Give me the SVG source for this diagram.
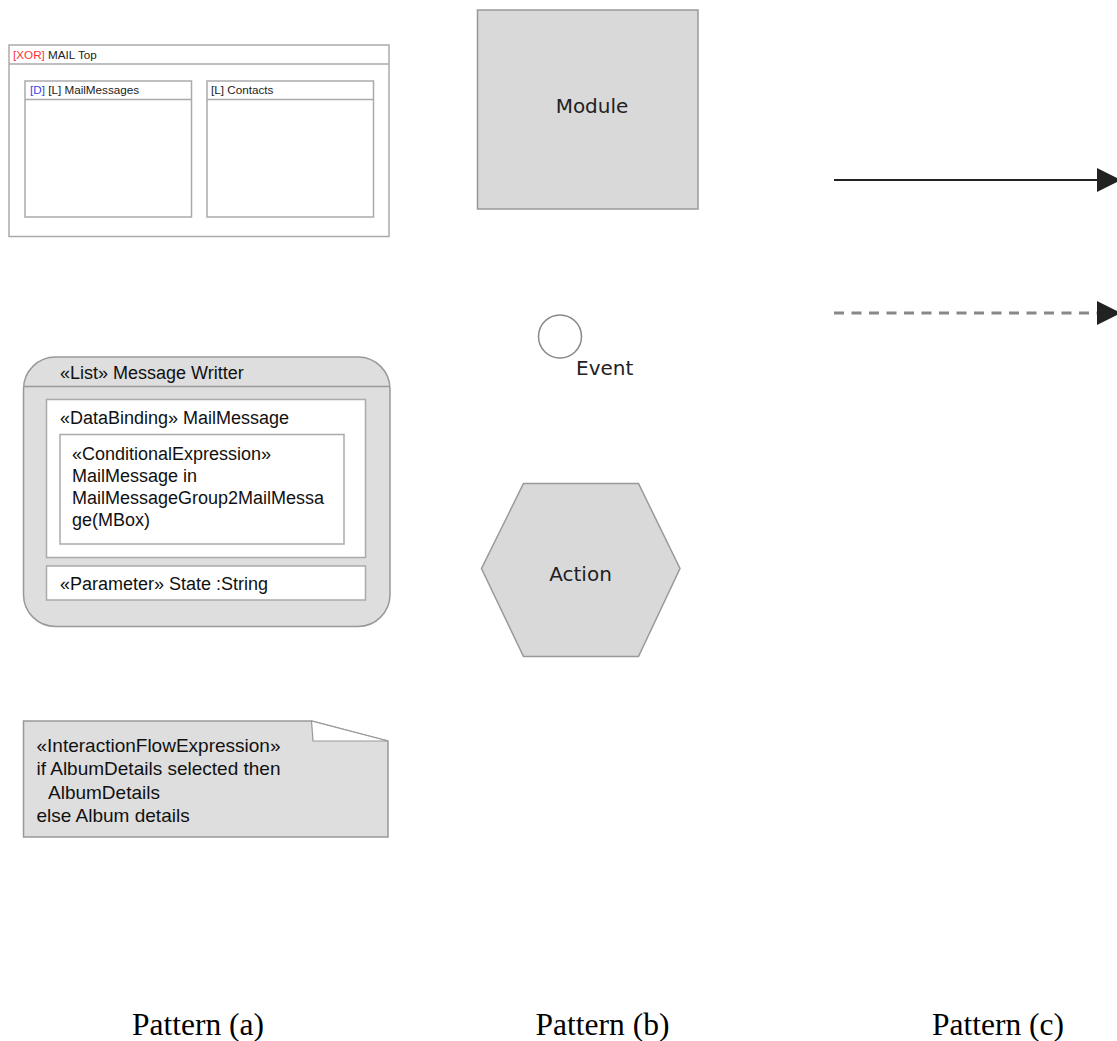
<svg xmlns="http://www.w3.org/2000/svg" width="1117" height="1041" viewBox="0 0 1117 1041">
<style>
.box{fill:#fff;stroke:#aaa;stroke-width:1.5}
.gray{fill:#d9d9d9;stroke:#999;stroke-width:1.5}
.sm{font-family:"Liberation Sans",Arial,sans-serif;font-size:11.7px;fill:#222}
.md{font-family:"Liberation Sans",Arial,sans-serif;font-size:18px;fill:#111}
.nt{font-family:"Liberation Sans",Arial,sans-serif;font-size:19px;fill:#111}
.lg{font-family:"DejaVu Sans",Verdana,sans-serif;font-size:20px;fill:#222}
.cap{font-family:"Liberation Serif","Times New Roman",serif;font-size:31.5px;fill:#000;text-anchor:middle}
</style>
<rect width="1117" height="1041" fill="#fff"/>
<g id="mail-top">
<rect class="box" x="9" y="45" width="380" height="191.5"/>
<line x1="9" y1="64" x2="389" y2="64" stroke="#aaa" stroke-width="1.5"/>
<text class="sm" x="13" y="59"><tspan fill="#ff3333">[XOR]</tspan> MAIL Top</text>
</g>
<g id="mail-messages">
<rect class="box" x="25" y="81" width="166.5" height="136"/>
<line x1="25" y1="99.5" x2="191.5" y2="99.5" stroke="#aaa" stroke-width="1.5"/>
<text class="sm" x="30" y="93.5"><tspan fill="#3344ee">[D]</tspan> [L] MailMessages</text>
</g>
<g id="contacts">
<rect class="box" x="207" y="81" width="166.5" height="136"/>
<line x1="207" y1="99.5" x2="373.5" y2="99.5" stroke="#aaa" stroke-width="1.5"/>
<text class="sm" x="211" y="93.5">[L] Contacts</text>
</g>
<g id="module">
<rect class="gray" x="477.5" y="10" width="220.5" height="199"/>
<text class="lg" x="592" y="113" text-anchor="middle">Module</text>
</g>
<g id="event">
<circle cx="560" cy="336.5" r="21.5" fill="#fff" stroke="#888" stroke-width="1.5"/>
<text class="lg" x="576" y="375">Event</text>
</g>
<g id="action">
<polygon class="gray" points="523.5,483.5 638.5,483.5 680,568.5 638.5,656.5 523.5,656.5 481.5,568.5"/>
<text class="lg" x="580.5" y="581" text-anchor="middle">Action</text>
</g>
<g id="message-writter">
<rect x="23.5" y="357" width="366.5" height="269.5" rx="32" ry="32" fill="#dedede" stroke="#999" stroke-width="1.5"/>
<line x1="23.5" y1="386.5" x2="390" y2="386.5" stroke="#999" stroke-width="1.5"/>
<text class="md" x="60" y="379">«List» Message Writter</text>
<rect class="box" x="46.5" y="399.5" width="319" height="158"/>
<text class="md" x="60" y="424">«DataBinding» MailMessage</text>
<rect class="box" x="60" y="434.5" width="284" height="109.5"/>
<text class="md" x="72" y="460">«ConditionalExpression»</text>
<text class="md" x="72" y="482">MailMessage in</text>
<text class="md" x="72" y="504">MailMessageGroup2MailMessa</text>
<text class="md" x="72" y="526">ge(MBox)</text>
<rect class="box" x="46.5" y="566" width="319" height="34"/>
<text class="md" x="60" y="590">«Parameter» State :String</text>
</g>
<g id="note">
<polygon points="23.5,721 311.5,721 388,741 388,837 23.5,837" fill="#dedede" stroke="#999" stroke-width="1.5"/>
<polygon points="311.5,721 313,741 388,741" fill="#fff" stroke="#999" stroke-width="1.2"/>
<text class="nt" x="36.5" y="752">«InteractionFlowExpression»</text>
<text class="nt" x="36.5" y="775">if AlbumDetails selected then</text>
<text class="nt" x="48" y="799">AlbumDetails</text>
<text class="nt" x="36.5" y="822">else Album details</text>
</g>
<g id="connectors">
<line x1="834" y1="180" x2="1098" y2="180" stroke="#222" stroke-width="2"/>
<polygon points="1097,168 1121,180 1097,192" fill="#222"/>
<line x1="834" y1="313" x2="1097" y2="313" stroke="#888" stroke-width="3" stroke-dasharray="10,7.5"/>
<polygon points="1097,301 1121,313 1097,325" fill="#222"/>
</g>
<text class="cap" x="198" y="1035">Pattern (a)</text>
<text class="cap" x="602.5" y="1035">Pattern (b)</text>
<text class="cap" x="998" y="1035">Pattern (c)</text>
</svg>
